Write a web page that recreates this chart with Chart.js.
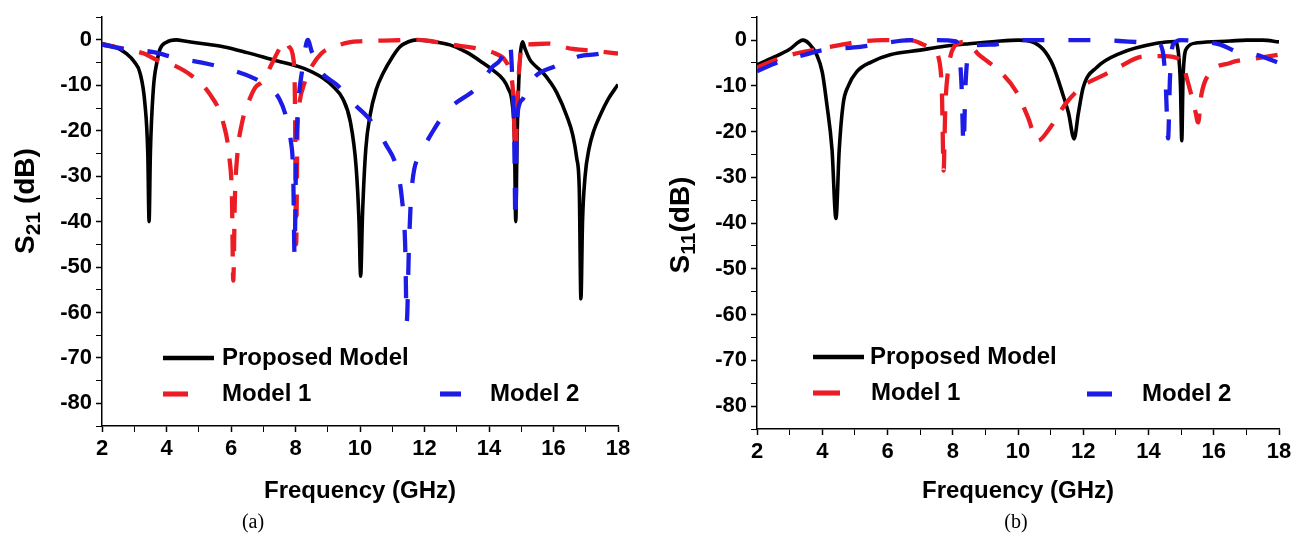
<!DOCTYPE html>
<html>
<head>
<meta charset="utf-8">
<script src="https://cdn.jsdelivr.net/npm/chart.js@4.4.1/dist/chart.umd.min.js"></script>
<style>
  html, body { margin: 0; padding: 0; background: #fff; }
  body { width: 1307px; height: 541px; position: relative; overflow: hidden; }
  .panel { position: absolute; top: 0; height: 510px; }
  .cap { position: absolute; top: 508px; font-family: "Liberation Serif", "Times New Roman", serif; font-size: 20px; line-height: 26px; transform: translateX(-50%); }
</style>
</head>
<body>
<div class="panel" style="left:0;width:650px"><canvas id="chartA"></canvas></div>
<div class="panel" style="left:650px;width:657px"><canvas id="chartB"></canvas></div>
<div class="cap" style="left:253px">(a)</div>
<div class="cap" style="left:1016px">(b)</div>
<script>
// S21 / S11 comparison of the proposed model vs model 1 and model 2
const FONT = '"Liberation Sans", Arial, sans-serif';
Chart.defaults.font.family = FONT;
Chart.defaults.color = '#000';

const seriesNames = ['Proposed Model', 'Model 1', 'Model 2'];
const seriesColors = ['#000000', '#ec1c24', '#1c1ce6'];

// (a) S21, proposed model
const s21PropF = [2, 2.4, 2.76, 3.0, 3.18, 3.33, 3.42, 3.46, 3.5, 3.59, 3.7, 3.8, 4.0, 4.3, 4.6, 5.2, 5.76, 6.5, 7.31, 8.24,
    8.85, 9.2, 9.47, 9.7, 9.88, 9.97, 10.02, 10.08, 10.18, 10.31, 10.5, 10.72, 11.0, 11.24, 11.5, 11.76, 12.3, 12.79, 13.3, 13.82,
    14.15, 14.44, 14.6, 14.72, 14.79, 14.83, 14.87, 14.93, 14.98, 15.04, 15.12, 15.27, 15.45, 15.68, 15.9, 16.1, 16.41, 16.6, 16.72, 16.8,
    16.85, 16.9, 16.98, 17.1, 17.25, 17.44, 17.7, 18];
const s21PropDb = [-0.8, -1.5, -3, -4.8, -7.3, -14, -25, -40, -25, -11, -5, -2, -0.5, 0, -0.3, -0.9, -1.5, -2.8, -4.4, -6.2,
    -8.4, -10.5, -13, -18, -28, -40, -52, -38, -24, -16.7, -11, -7.3, -3.8, -1.5, -0.4, 0, -0.4, -1.1, -2.7, -5.1,
    -6.8, -8.7, -10.8, -14, -22, -40, -22, -8, -2.5, -0.4, -2, -4.4, -5.8, -7.3, -9.3, -11.6, -16.7, -21, -26, -33,
    -57, -40, -30, -24, -20, -16.7, -13, -9.8];

// (a) S21, model 1
const s21M1F = [2, 2.7, 3.3, 3.7, 4.2, 4.8, 5.35, 5.75, 5.95, 6.03, 6.07, 6.12, 6.2, 6.35, 6.5, 6.75, 7.0, 7.27, 7.5, 7.7,
    7.8, 7.93, 7.98, 8.02, 8.06, 8.12, 8.3, 8.45, 8.8, 9.2, 9.7, 10, 11, 11.8, 12.4, 13.1, 13.8, 14.2, 14.5, 14.65,
    14.75, 14.82, 14.88, 14.95, 15.07, 15.2, 15.8, 16.6, 17.4, 18];
const s21M1Db = [-1, -2, -3, -4.4, -5.5, -8, -12, -18, -26, -35, -53, -35, -25, -18, -14.5, -10.5, -9, -5.2, -2, -0.3,
    -1.5, -4, -12, -45, -20, -14, -9, -6.5, -3, -1.5, -0.5, -0.3, -0.1, 0, -0.5, -1.3, -2.1, -3, -4.5, -7,
    -12, -25, -14, -5, -0.6, -1, -0.8, -2, -2.5, -3];

// (a) S21, model 2
const s21M2F = [2, 2.7, 3.6, 4.3, 5.1, 5.9, 6.7, 7.2, 7.5, 7.7, 7.85, 7.93, 7.97, 8.02, 8.1, 8.2, 8.3, 8.38, 8.5, 8.75,
    9.3, 9.8, 10.3, 10.8, 11.15, 11.3, 11.4, 11.45, 11.52, 11.6, 11.9, 12.27, 12.7, 13.7, 14.1, 14.35, 14.55, 14.65, 14.72, 14.78,
    14.82, 14.86, 14.95, 15.05, 15.35, 16.05, 16.8, 17.45, 18];
const s21M2Db = [-1, -2, -2.7, -4, -5, -6.4, -8.4, -10.6, -13, -16.7, -22, -30, -47, -25, -13, -7, -2, 0, -2.5, -6.6,
    -10, -14, -17.5, -23, -28.5, -35, -45, -62, -45, -33, -25, -20, -15.6, -10, -6, -4.4, -1.5, -0.5, -8, -20,
    -40, -20, -14, -13, -8.7, -5.8, -3.6, -3, -1.5];

// (b) S11, proposed model
const s11PropF = [2, 2.5, 3.0, 3.41, 3.6, 3.83, 4.0, 4.14, 4.3, 4.42, 4.52, 4.64, 4.8, 5.06, 5.5, 6.08, 7.0, 7.6, 8.5, 9.3,
    10, 10.4, 10.77, 11.07, 11.38, 11.55, 11.72, 11.85, 12.0, 12.41, 13.13, 14.25, 14.8, 14.92, 14.98, 15.02, 15.06, 15.17, 15.5, 16.5,
    17, 17.5, 18];
const s11PropDb = [-5.4, -3.8, -2, 0, -0.8, -3.2, -7, -14, -24, -39, -24, -14, -10, -6.9, -4.8, -3.2, -2.2, -1.5, -0.8, -0.3,
    0, -0.3, -2, -5.5, -12, -16, -21.6, -16, -10.3, -6, -2.9, -0.7, -0.3, -3, -10, -22, -8, -1.8, -0.6, -0.2,
    0, 0, -0.4];

// (b) S11, model 1
const s11M1F = [2, 2.5, 3.0, 3.47, 4.24, 5.07, 5.86, 6.7, 7.1, 7.4, 7.6, 7.67, 7.72, 7.77, 7.85, 7.95, 8.1, 8.4, 8.8, 9.45,
    9.96, 10.3, 10.6, 11.0, 11.45, 12.0, 12.67, 13.12, 13.84, 14.5, 15.0, 15.2, 15.33, 15.45, 15.52, 15.62, 15.8, 16.5, 17.3, 18];
const s11M1Db = [-6, -4.5, -3.3, -2.5, -1.5, -0.4, 0, 0, -1, -2.2, -5, -12, -28.5, -15, -7, -3, -1, -0.4, -3.2, -6.9,
    -11.4, -16.8, -22, -19, -14, -10, -7.5, -5.8, -3.6, -3.5, -4.5, -9, -12.5, -16, -18, -12, -8, -5, -4, -3.2];

// (b) S11, model 2
const s11M2F = [2, 2.7, 3.47, 4.0, 5.16, 5.86, 6.7, 7.5, 8.1, 8.2, 8.27, 8.33, 8.39, 8.45, 8.6, 9.2, 10, 11.7, 12.5, 13.1,
    13.9, 14.3, 14.45, 14.53, 14.6, 14.66, 14.75, 15.0, 15.5, 16.2, 16.7, 17.3, 18];
const s11M2Db = [-6.8, -4.7, -3.2, -2.2, -1.5, -0.7, 0, 0, -0.3, -3, -10, -23, -10, -4, -1.2, -1, 0, 0, 0, -0.2,
    -0.5, -0.8, -3, -10, -21.5, -8, -1, 0, -0.3, -1, -2.5, -3.2, -5];

const xTicks = [2, 4, 6, 8, 10, 12, 14, 16, 18];
const yTicks = [0, -10, -20, -30, -40, -50, -60, -70, -80];

function pts(f, db) {
    return f.map((x, i) => ({ x: x, y: db[i] }));
}

function buildDatasets(groups) {
    const dashes = [[], [22, 16], [22, 24]];
    const widths = [3.6, 4.3, 4.3];
    return groups.map((g, i) => ({
        label: seriesNames[i],
        data: pts(g[0], g[1]),
        borderColor: seriesColors[i],
        borderWidth: widths[i],
        borderDash: dashes[i],
        pointRadius: 0,
        fill: false,
        cubicInterpolationMode: 'monotone'
    })).reverse();
}

// rotated y title with subscript, e.g. S21 (dB)
function yTitle(x, y, main, sub, tail) {
    return {
        id: 'yTitle',
        afterDraw(chart) {
            const ctx = chart.ctx;
            const big = 'bold 28px ' + FONT;
            const small = 'bold 21px ' + FONT;
            ctx.save();
            ctx.fillStyle = '#000';
            ctx.textBaseline = 'alphabetic';
            ctx.font = big;
            const wMain = ctx.measureText(main).width;
            const wTail = ctx.measureText(tail).width;
            ctx.font = small;
            const wSub = ctx.measureText(sub).width;
            ctx.translate(x, y);
            ctx.rotate(-Math.PI / 2);
            let p = -(wMain + wSub + wTail) / 2;
            ctx.font = big;
            ctx.fillText(main, p, 0);
            p += wMain;
            ctx.font = small;
            ctx.fillText(sub, p, 6);
            p += wSub;
            ctx.font = big;
            ctx.fillText(tail, p, 0);
            ctx.restore();
        }
    };
}

// legend drawn from the datasets' own styles
function seriesKey(items) {
    return {
        id: 'seriesKey',
        afterDraw(chart) {
            const ctx = chart.ctx;
            items.forEach(it => {
                const ds = chart.data.datasets.find(d => d.label === seriesNames[it.s]);
                ctx.save();
                ctx.strokeStyle = ds.borderColor;
                ctx.lineWidth = ds.borderWidth + 0.8;
                ctx.beginPath();
                ctx.moveTo(it.x, it.y);
                ctx.lineTo(it.x + it.len, it.y);
                ctx.stroke();
                ctx.fillStyle = '#000';
                ctx.font = 'bold 24px ' + FONT;
                ctx.textBaseline = 'middle';
                ctx.fillText(ds.label, it.tx, it.y);
                ctx.restore();
            });
        }
    };
}

function makeChart(canvasId, groups, box, plugins) {
    const ctx = document.getElementById(canvasId).getContext('2d');
    return new Chart(ctx, {
        type: 'line',
        data: { datasets: buildDatasets(groups) },
        options: {
            responsive: true,
            maintainAspectRatio: false,
            animation: false,
            layout: { padding: { top: box.top, right: box.right, bottom: 0, left: 0 } },
            plugins: { legend: { display: false }, tooltip: { enabled: false } },
            scales: {
                x: {
                    type: 'linear',
                    min: 2,
                    max: 18,
                    afterFit: s => { s.height = box.xHeight; },
                    ticks: {
                        stepSize: 1,
                        autoSkip: false,
                        maxRotation: 0,
                        padding: 4,
                        font: { size: 22, weight: 'bold' },
                        callback: v => (xTicks.includes(v) ? v : '')
                    },
                    grid: {
                        drawOnChartArea: false,
                        tickLength: 6,
                        tickColor: '#000',
                        tickWidth: c => (c.tick && xTicks.includes(c.tick.value) ? 1.5 : 1)
                    },
                    border: { display: true, color: '#000', width: 1.5 },
                    title: {
                        display: true,
                        text: 'Frequency (GHz)',
                        font: { size: 24, weight: 'bold' },
                        padding: { top: 0, bottom: box.titlePad }
                    }
                },
                y: {
                    min: -85,
                    max: 5,
                    afterFit: s => { s.width = box.yWidth; },
                    ticks: {
                        stepSize: 5,
                        autoSkip: false,
                        padding: 4,
                        font: { size: 22, weight: 'bold' },
                        callback: v => (yTicks.includes(v) ? v : '')
                    },
                    grid: {
                        drawOnChartArea: false,
                        tickLength: 6,
                        tickColor: '#000',
                        tickWidth: c => (c.tick && yTicks.includes(c.tick.value) ? 1.5 : 1)
                    },
                    border: { display: true, color: '#000', width: 1.5 }
                }
            }
        },
        plugins: plugins
    });
}

makeChart('chartA',
    [[s21PropF, s21PropDb], [s21M1F, s21M1Db], [s21M2F, s21M2Db]],
    { top: 10, right: 32, yWidth: 102, xHeight: 84, titlePad: 4 },
    [yTitle(34, 201, 'S', '21', ' (dB)'),
     seriesKey([
        { s: 0, x: 163, y: 358, len: 51, tx: 222 },
        { s: 1, x: 163, y: 394, len: 25, tx: 222 },
        { s: 2, x: 440, y: 394, len: 21, tx: 490 }
     ])]);

makeChart('chartB',
    [[s11PropF, s11PropDb], [s11M1F, s11M1Db], [s11M2F, s11M2Db]],
    { top: 12, right: 28, yWidth: 107, xHeight: 81, titlePad: 4 },
    [yTitle(39, 225, 'S', '11', '(dB)'),
     seriesKey([
        { s: 0, x: 163, y: 357, len: 51, tx: 220 },
        { s: 1, x: 163, y: 393, len: 27, tx: 221 },
        { s: 2, x: 437, y: 394, len: 25, tx: 492 }
     ])]);
</script>
</body>
</html>
